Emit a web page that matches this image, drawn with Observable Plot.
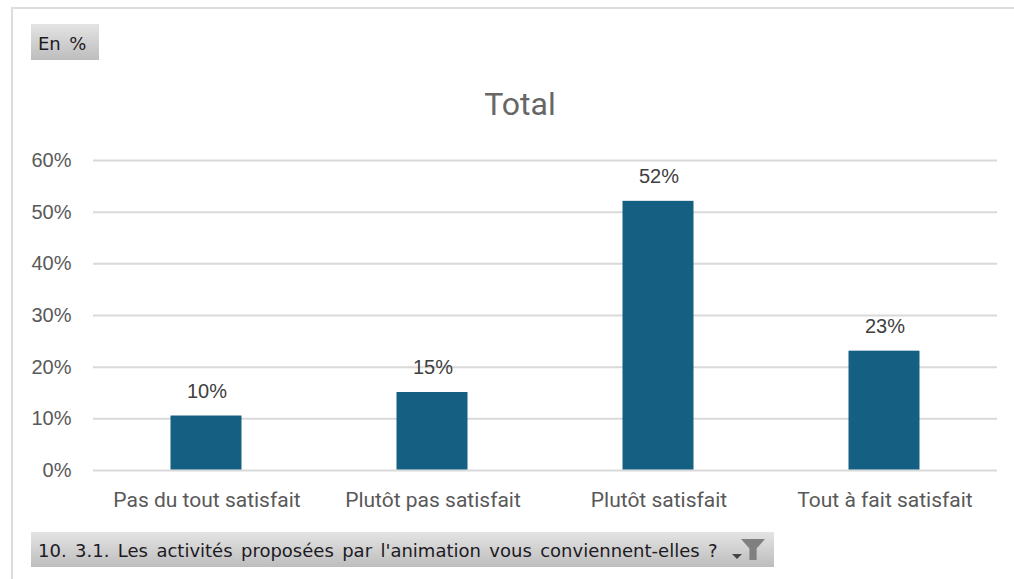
<!DOCTYPE html>
<html lang="fr"><head><meta charset="utf-8">
<script src="https://cdn.jsdelivr.net/npm/d3@7"></script>
<script src="https://cdn.jsdelivr.net/npm/@observablehq/plot@0.6"></script>
<style>
html,body{margin:0;padding:0;background:#fff;width:1014px;height:579px;overflow:hidden}
#frame{position:absolute;left:11px;top:7px;width:1014px;height:580px;border-left:2px solid #dcdcdc;border-top:2px solid #dcdcdc;box-sizing:border-box}
#chart{position:absolute;left:0;top:0}
.btn{position:absolute;background:linear-gradient(#e4e4e4,#bdbdbd);color:#1d1a24;font-family:"DejaVu Sans";font-size:18px;word-spacing:2.7px;white-space:pre;box-sizing:border-box;padding-left:7px}
#unit{left:31px;top:24px;width:68px;height:36px;line-height:39px}
#filter{left:31px;top:532px;width:743px;height:35px;line-height:37px}
#title{position:absolute;left:0;top:85px;width:1040px;text-align:center;font:32px Roboto;color:#666}
#arrow{position:absolute;left:732px;top:554px;width:0;height:0;border-left:5px solid transparent;border-right:5px solid transparent;border-top:5px solid #444}
#funnel{position:absolute;left:741px;top:539px;width:24px;height:21px;background:#808080;clip-path:polygon(0 0,100% 0,65% 45%,65% 100%,35% 100%,35% 45%)}
</style></head><body>
<div id="frame"></div>
<div id="chart"></div>
<div id="unit" class="btn">En %</div>
<div id="title">Total</div>
<div id="filter" class="btn">10. 3.1. Les activités proposées par l'animation vous conviennent-elles ?</div>
<div id="arrow"></div><div id="funnel"></div>
<script>
const categories = ["Pas du tout satisfait", "Plutôt pas satisfait", "Plutôt satisfait", "Tout à fait satisfait"];
const values = [10.45, 15, 52, 23];
const yTicks = [0, 10, 20, 30, 40, 50, 60];
const rows = categories.map((c, i) => ({c, v: values[i]}));
const pct = d => d3.format(".0f")(d) + "%";
const chart = Plot.plot({
  width: 1014, height: 579,
  marginTop: 160, marginBottom: 109, marginLeft: 93, marginRight: 17,
  style: {background: "transparent", overflow: "visible"},
  x: {domain: categories, paddingInner: 0.686, paddingOuter: 0.343, align: 0.5, label: null},
  y: {domain: [0, 60], label: null},
  marks: [
    Plot.ruleY(yTicks, {stroke: "#d9d9d9", strokeWidth: 2, strokeOpacity: 1}),
    Plot.barY(rows, {x: "c", y: "v", fill: "#156082", dx: -0.5, dy: -0.5}),
    Plot.axisY({ticks: yTicks, tickSize: 0, tickPadding: 22, tickFormat: pct, label: null, fontSize: 20, fontFamily: "Liberation Sans", color: "#595959"}),
    Plot.axisX({tickSize: 0, tickPadding: 22, label: null, fontSize: 21, fontFamily: "Roboto", color: "#595959"}),
    Plot.text(rows, {x: "c", y: "v", text: d => pct(d.v), dy: -25, fontSize: 20, fontFamily: "Liberation Sans", fill: "#404040"})
  ]
});
document.getElementById("chart").append(chart);
</script>
</body></html>
